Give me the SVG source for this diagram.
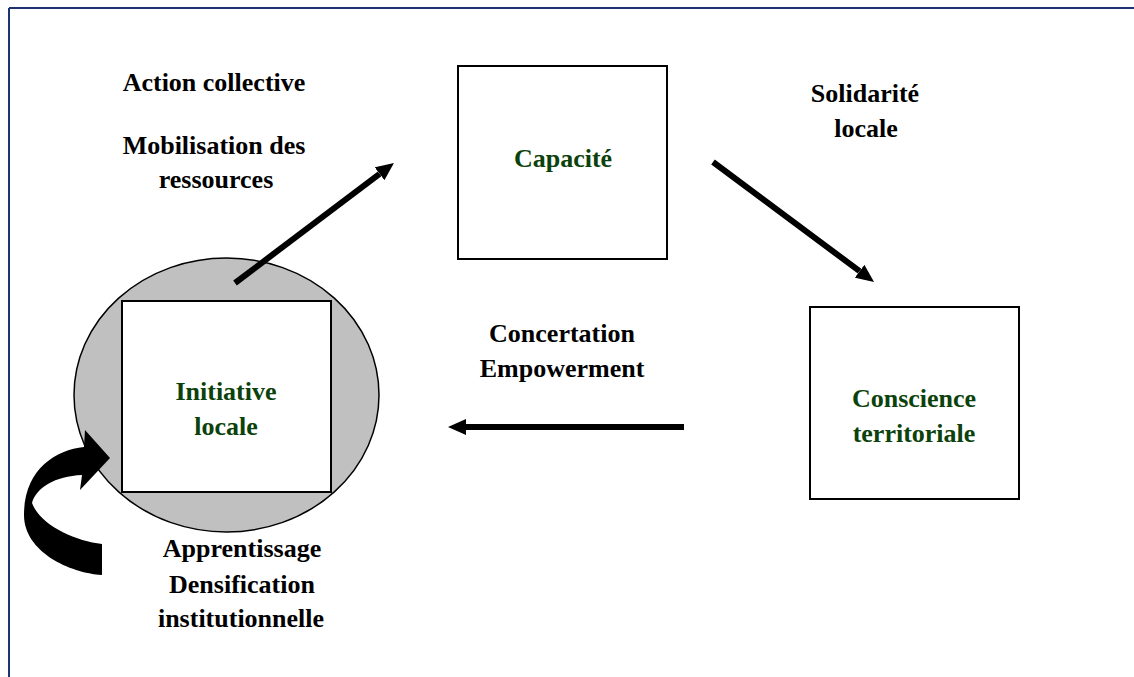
<svg xmlns="http://www.w3.org/2000/svg" width="1134" height="677" viewBox="0 0 1134 677">
<defs>
<style>
.lbl{font-family:"Liberation Serif","Times New Roman",serif;font-weight:bold;font-size:26px;fill:#000;text-anchor:middle}
.node{font-family:"Liberation Serif","Times New Roman",serif;font-weight:bold;font-size:26px;fill:#0b420b;text-anchor:middle}
.box{fill:#fff;stroke:#000;stroke-width:2}
.conn{stroke:#000;stroke-width:6;fill:none}
</style>
<marker id="head" viewBox="0 -8 18 16" refX="0" refY="0" markerWidth="18" markerHeight="16" markerUnits="userSpaceOnUse" orient="auto">
<path d="M0,-8 L18,0 L0,8 Z" fill="#000"/>
</marker>
</defs>
<rect x="0" y="0" width="1134" height="677" fill="#fff"/>
<g id="frame" fill="none" stroke="#1c3473" stroke-width="2">
<line x1="9" y1="8" x2="1134" y2="8"/>
<line x1="9" y1="8" x2="9" y2="677"/>
</g>
<g id="initiative">
<ellipse cx="226.5" cy="395" rx="152.5" ry="137" fill="#c0c0c0" stroke="#000" stroke-width="1.5"/>
<rect class="box" x="122" y="301" width="209" height="191"/>
<text class="node" x="226" y="400">Initiative</text>
<text class="node" x="226" y="435">locale</text>
</g>
<g id="capacite">
<rect class="box" x="458" y="66" width="209" height="193"/>
<text class="node" x="563" y="167">Capacité</text>
</g>
<g id="conscience">
<rect class="box" x="810" y="307" width="209" height="192"/>
<text class="node" x="914" y="407">Conscience</text>
<text class="node" x="914" y="442">territoriale</text>
</g>
<g id="connectors">
<line class="conn" x1="235" y1="283" x2="379.6" y2="173.8" marker-end="url(#head)"/>
<line class="conn" x1="713" y1="162" x2="859.6" y2="271.2" marker-end="url(#head)"/>
<line class="conn" x1="684" y1="427" x2="466" y2="427" marker-end="url(#head)"/>
<path id="loop" fill="#000" d="M102,544 C75,541 40,525 32,503 C36,488 55,476 82,475 L80,490 L110,458 L85,430 L84,447 C55,450 24,470 24,515 C24,552 70,573 102,575 Z"/>
</g>
<g id="labels">
<text class="lbl" x="214" y="91">Action collective</text>
<text class="lbl" x="214" y="154">Mobilisation des</text>
<text class="lbl" x="216" y="188">ressources</text>
<text class="lbl" x="865" y="102">Solidarité</text>
<text class="lbl" x="866" y="137">locale</text>
<text class="lbl" x="562" y="342">Concertation</text>
<text class="lbl" x="562" y="377">Empowerment</text>
<text class="lbl" x="242" y="557">Apprentissage</text>
<text class="lbl" x="242" y="593">Densification</text>
<text class="lbl" x="241" y="627">institutionnelle</text>
</g>
</svg>
